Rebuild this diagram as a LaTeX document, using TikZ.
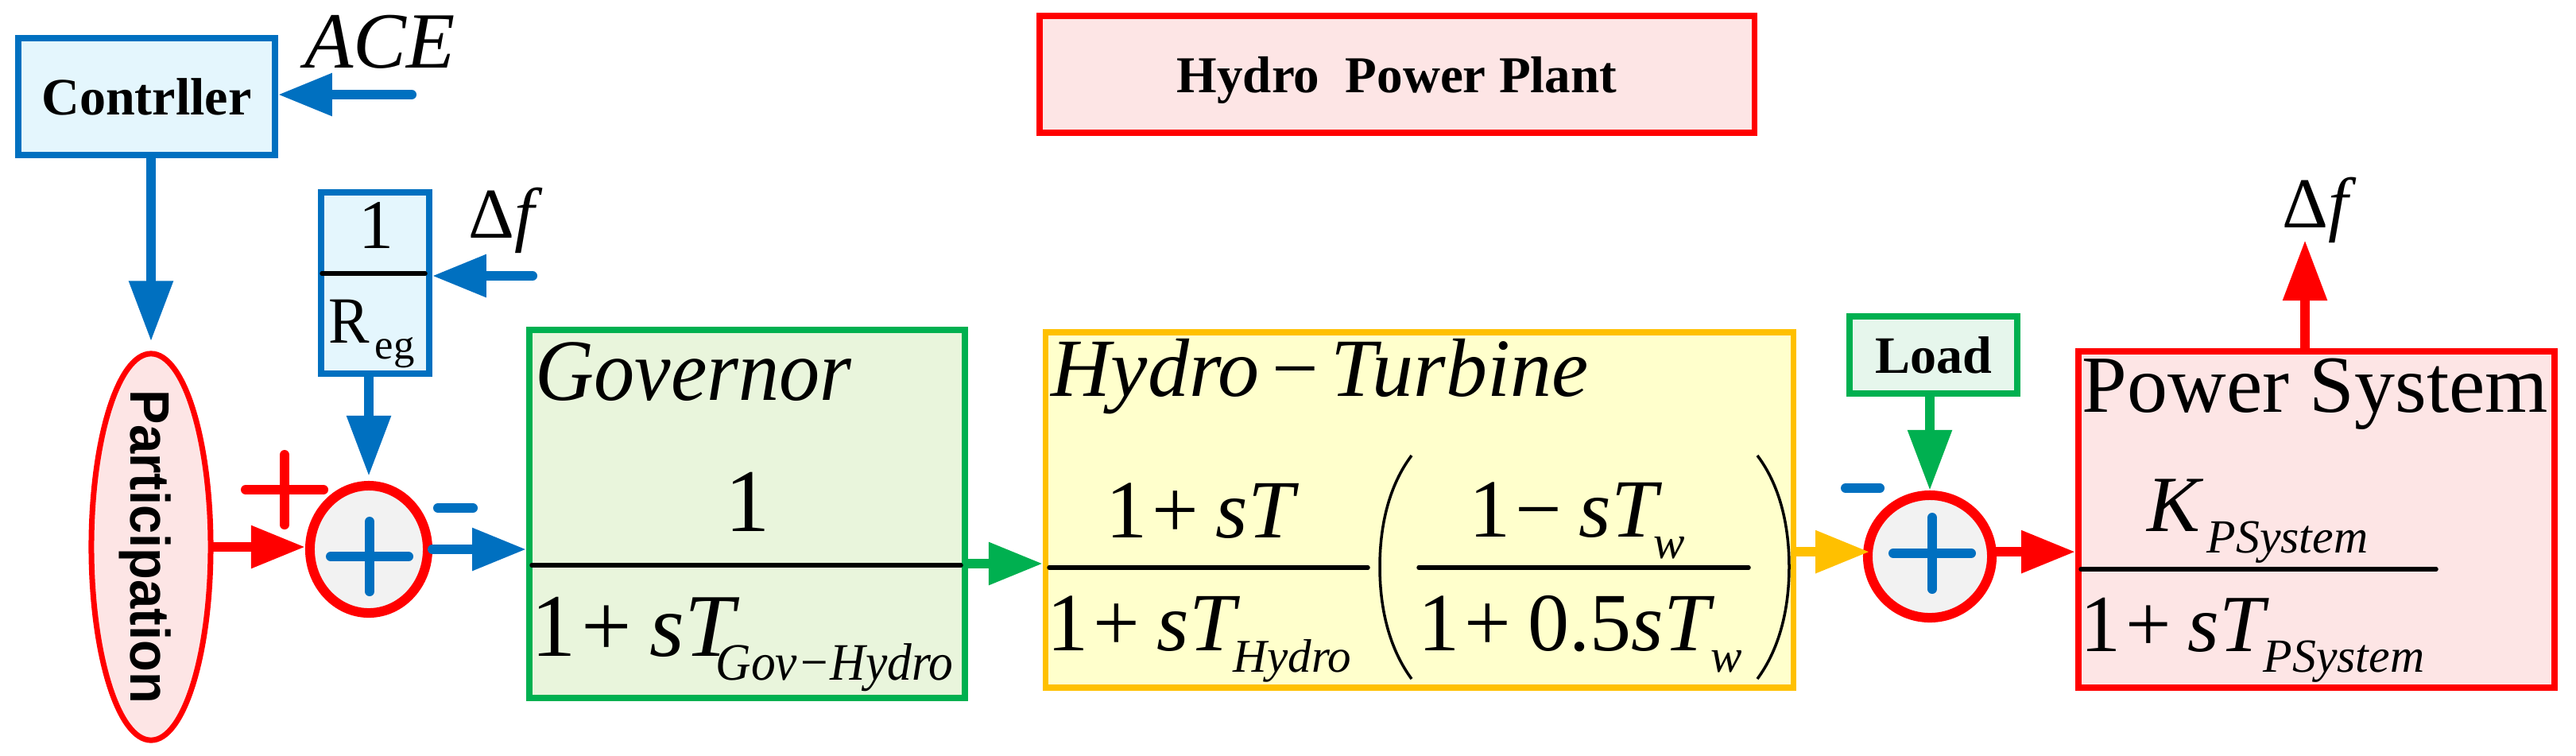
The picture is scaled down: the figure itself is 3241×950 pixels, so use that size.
\documentclass[tikz,border=0pt]{standalone}
\usepackage{fontspec}
\setmainfont{Liberation Serif}
\newfontfamily\tallserif[FakeStretch=0.93]{Liberation Serif}
\newfontfamily\tallsans[FakeStretch=0.93]{Liberation Sans}
\usetikzlibrary{arrows.meta,%
                shapes.geometric}
\definecolor{linkblue}{HTML}{0070C0}
\definecolor{linkgreen}{HTML}{00B050}
\definecolor{linkamber}{HTML}{FFC000}
\definecolor{linkred}{HTML}{FF0000}
\definecolor{fillblue}{HTML}{E4F6FD}
\definecolor{fillred}{HTML}{FDE5E5}
\definecolor{fillgov}{HTML}{E9F5DC}
\definecolor{fillhyd}{HTML}{FFFFCC}
\definecolor{fillload}{HTML}{E6F6EC}
\newcommand{\plusgap}{\kern.06em+\kern.2em}
\newcommand{\minusgap}{\kern.06em−\kern.2em}

\begin{document}
\begin{tikzpicture}
  [x=0.01cm,y=-0.01cm,
   blockbox/.style={draw,rectangle,line width=0.075cm,inner sep=0pt},
   ctrlbox/.style={blockbox,draw=linkblue,fill=fillblue},
   greenbox/.style={blockbox,draw=linkgreen,fill=#1},
   redbox/.style={blockbox,draw=linkred,fill=fillred},
   amberbox/.style={blockbox,draw=linkamber,fill=fillhyd},
   sumnode/.style={draw=linkred,fill=black!5,ellipse,line width=0.12cm,inner sep=0pt},
   boldtag/.style={font=\bfseries\fontsize{#1}{#1}\selectfont,text depth=0pt},
   eq/.style={anchor=base west,inner sep=0pt,font=\fontsize{#1}{#1}\selectfont},
   eqmid/.style={anchor=base,inner sep=0pt,font=\fontsize{#1}{#1}\selectfont},
   link/.style={draw=#1,line width=0.12cm,line cap=round},
   headdown/.style={-{Triangle[length=0.76cm,width=0.53cm]}},
   headside/.style={-{Triangle[length=0.68cm,width=0.51cm]}},
   fracbar/.style={line width=0.055cm,line cap=round},
   parenline/.style={line width=0.035cm}]
  \useasboundingbox (0,0) rectangle (3241,950);
  % blocks
  \node[ctrlbox,boldtag=18.8,minimum width=3.23cm,minimum height=1.47cm] (ctrl) at (184.5,121.5) {Contrller};
  \node[redbox,boldtag=18.5,minimum width=8.99cm,minimum height=1.47cm] (plant) at (1757.5,93.5) {Hydro\ \ Power Plant};
  \node[ctrlbox,minimum width=1.36cm,minimum height=2.28cm] (reg) at (472,356) {};
  \node[greenbox=fillgov,minimum width=5.48cm,minimum height=4.63cm] (gov) at (940,646.5) {};
  \node[amberbox,minimum width=9.40cm,minimum height=4.47cm] (hyd) at (1786,641.5) {};
  \node[greenbox=fillload,boldtag=18.8,minimum width=2.11cm,minimum height=0.97cm] (load) at (2432.5,446.5) {Load};
  \node[redbox,minimum width=5.99cm,minimum height=4.23cm] (pow) at (2914.5,653.5) {};
  \node[draw=linkred,fill=fillred,ellipse,line width=0.07cm,inner sep=0pt,minimum width=1.50cm,minimum height=4.86cm] (part) at (190,688) {};
  \node[rotate=-90,inner sep=0pt,font=\tallsans\bfseries\fontsize{19.9}{20}\selectfont,text depth=0pt] (partlbl) at (part) {Participation};
  \node[sumnode,minimum width=1.48cm,minimum height=1.60cm] (sum1) at (464,691) {};
  \node[sumnode,minimum width=1.56cm,minimum height=1.54cm] (sum2) at (2428,700) {};
  % free ends
  \coordinate (ace) at (518,119);
  \coordinate (dfin) at (670,347);
  \coordinate (dfout) at (2900,302);
  \coordinate (bargov) at (940,709);
  % labels
  \node[eq=28.5] (lace) at (383,85) {\itshape ACE};
  \node[eq=25.6] (ldfin) at (589,299) {Δ\textit{f}};
  \node[eq=25.6] (ldfout) at (2871,286) {Δ\textit{f}};
  \node[eqmid=25] (regn) at (473,312) {1};
  \node[eq=23.6] (regd) at (413,431) {\tallserif R};
  \node[eq=15] (regs) at (471,451) {eg};
  \node[eq=31.3] (govt) at (673,503) {\tallserif\itshape Governor};
  \node[eqmid=32] (govn) at (941,668) {1};
  \node[eq=32] (govd) at (668,825) {1\plusgap\textit{sT}};
  \node[eq=18.8] (govs) at (900,855) {\tallserif\itshape Gov−Hydro};
  \node[eq=29.6] (hydt) at (1322,498) {\itshape Hydro\kern.15em\upshape −\kern.15em\itshape Turbine};
  \node[eq=29.6] (hydan) at (1391,676) {1\plusgap\textit{sT}};
  \node[eq=29.6] (hydad) at (1317,818) {1\plusgap\textit{sT}};
  \node[eq=16.8] (hydas) at (1551,845) {\itshape Hydro};
  \node[eq=29.6] (hydbn) at (1848,675) {1\minusgap\textit{sT}};
  \node[eq=16.8] (hydbu) at (2080,702) {\itshape w};
  \node[eq=29.6] (hydbd) at (1784,818) {1\plusgap 0.5\textit{sT}};
  \node[eq=16.8] (hydbs) at (2152,845) {\itshape w};
  \node[eq=29] (powt) at (2619,518) {Power System};
  \node[eq=28.5] (pown) at (2701,668) {\itshape K};
  \node[eq=17] (powu) at (2776,695) {\itshape PSystem};
  \node[eq=29] (powd) at (2617,819) {1\plusgap\textit{sT}};
  \node[eq=17] (pows) at (2847,845) {\itshape PSystem};
  % fraction bars
  \foreach \xa/\xb/\yy in {405/535/344,669/1209/711,1320/1721/714,1785/2200/714,2618/3065/716}
    \draw[fracbar] (\xa,\yy) -- (\xb,\yy);
  \draw[parenline] (1776,573) .. controls (1748,610) and (1736,660) .. (1736,713) .. controls (1736,766) and (1748,816) .. (1776,854);
  \draw[parenline] (2211,573) .. controls (2239,610) and (2251,660) .. (2251,713) .. controls (2251,766) and (2239,816) .. (2211,854);
  % signs
  \foreach \cx/\cy/\wd/\ht/\col in {465/700/49/44/linkblue,2431/696/49/45/linkblue,358/616/49/44/linkred}
  {
    \draw[link=\col] (\cx-\wd,\cy) -- (\cx+\wd,\cy);
    \draw[link=\col] (\cx,\cy-\ht) -- (\cx,\cy+\ht);
  }
  \draw[link=linkblue] (551,639) -- (595,639);
  \draw[link=linkblue] (2322,614) -- (2365,614);
  % connectors
  \draw[link=linkblue,headside] (ace) -- (ace -| ctrl.east);
  \draw[link=linkblue,headside] (dfin) -- (dfin -| reg.east);
  \draw[link=linkblue,headdown,shorten >=0.12cm] (ctrl.south -| part) -- (part.north);
  \draw[link=linkblue,headdown,shorten >=0.06cm] (reg.south -| sum1) -- (sum1.north);
  \draw[link=linkred,headside] (part.east) -- (part.east -| sum1.west);
  \draw[link=linkblue,headside] (sum1.east) -- (sum1.east -| gov.west);
  \draw[link=linkgreen,headside] (gov.east |- bargov) -- (hyd.west |- bargov);
  \draw[link=linkamber,headside,shorten >=-0.08cm] (sum2.176 -| hyd.east) -- (sum2.176);
  \draw[link=linkgreen,headdown] (load.south -| sum2) -- (sum2.north);
  \draw[link=linkred,headside] (sum2.4) -- (sum2.4 -| pow.west);
  \draw[link=linkred,headdown] (dfout |- pow.north) -- (dfout);
\end{tikzpicture}
\end{document}
